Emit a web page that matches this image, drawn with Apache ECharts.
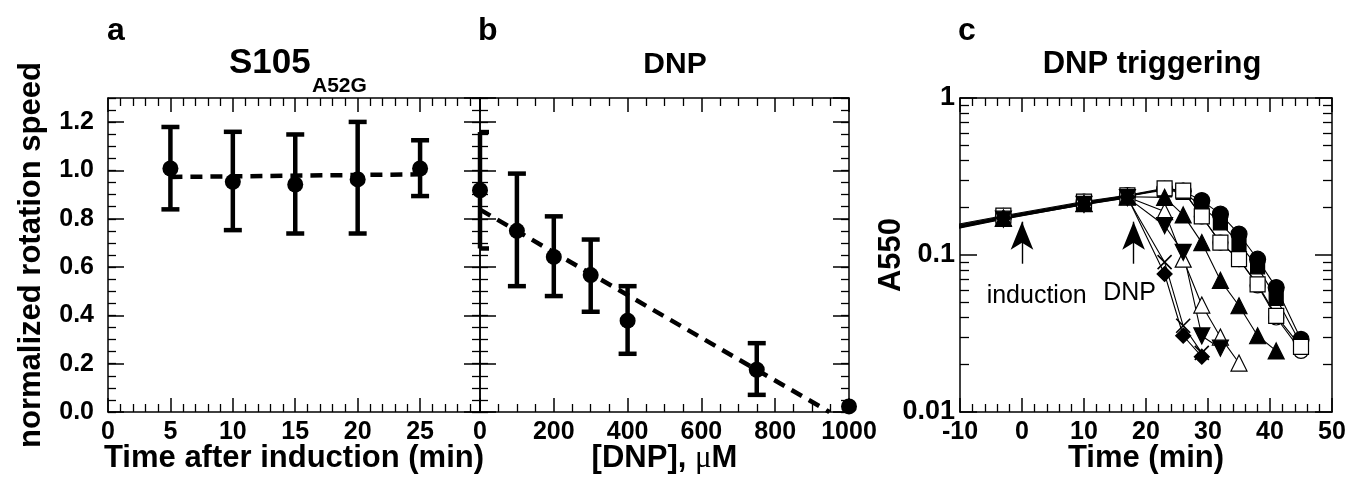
<!DOCTYPE html>
<html><head><meta charset="utf-8">
<script src="https://cdn.jsdelivr.net/npm/echarts@6/dist/echarts.min.js"></script>
<style>html,body{margin:0;padding:0;background:#fff}#chart{width:1348px;height:481px}</style>
</head><body><div id="chart"></div>
<script>
const FONT = '"Liberation Sans", Arial, Helvetica, sans-serif';

// ---- Panel a : S105 A52G ----
const aTime = [5, 10, 15, 20, 25];
const aSpeed = [1.008, 0.953, 0.942, 0.963, 1.008];
const aErrLow = [0.839, 0.753, 0.739, 0.739, 0.894];
const aErrHigh = [1.18, 1.16, 1.149, 1.201, 1.125];
const aFitX = [5, 25];
const aFitY = [0.973, 0.984];

// ---- Panel b : DNP ----
const bDNP = [0, 100, 200, 300, 400, 750, 1000];
const bSpeed = [0.918, 0.75, 0.642, 0.567, 0.378, 0.175, 0.023];
const bErrLow = [0.677, 0.521, 0.48, 0.415, 0.241, 0.071, null];
const bErrHigh = [1.159, 0.987, 0.81, 0.714, 0.521, 0.285, null];
const bFitX = [0, 947];
const bFitY = [0.838, 0];

// ---- Panel c : DNP triggering (A550, log) ----
const cTime = [-17, -3, 10, 17, 23, 26, 29, 32, 35, 38, 41, 45];
const cOpenCircle    = [0.135, 0.173, 0.214, 0.236, 0.264, 0.256, 0.176, 0.120, 0.094, 0.064, 0.040, 0.0245];
const cFilledCircle  = [0.139, 0.176, 0.217, 0.239, 0.262, 0.255, 0.222, 0.182, 0.136, 0.094, 0.062, 0.029];
const cFilledSquare  = [0.137, 0.175, 0.216, 0.237, 0.260, 0.250, 0.205, 0.160, 0.118, 0.084, 0.053, 0.027];
const cOpenSquare    = [0.140, 0.178, 0.219, 0.240, 0.266, 0.257, 0.176, 0.120, 0.094, 0.065, 0.041, 0.026];
const cOpenTriUp     = [0.133, 0.171, 0.212, 0.234, 0.189, 0.094, 0.048, 0.030, 0.0205, null, null, null];
const cFilledTriUp   = [0.136, 0.172, 0.213, 0.235, 0.233, 0.180, 0.120, 0.069, 0.0475, 0.0306, 0.0245, null];
const cFilledTriDown = [0.131, 0.169, 0.210, 0.232, 0.154, 0.104, 0.0305, 0.0255, null, null, null, null];
const cCross         = [0.132, 0.170, 0.209, 0.231, 0.090, 0.0354, 0.0238, null, null, null, null, null];
const cFilledDiamond = [0.134, 0.172, 0.211, 0.234, 0.0757, 0.0306, 0.0225, null, null, null, null, null];

// annotations in panel c
const cArrowX = [0, 18];
const cArrowTail = 0.088;
const cArrowTip = 0.163;
const cNoteText = ['induction', 'DNP'];
const cNoteX = [-5.7, 13.1];
const cNoteY = [0.0548, 0.0573];

// axis label texts
const aXName = 'Time after induction (min)';
const bXName = '[DNP], {mu|μ}M';
const cXName = 'Time (min)';
const aYName = 'normalized rotation speed';
const cYName = 'A550';

const K = '#000';
const nameStyle = {color: K, fontFamily: FONT, fontWeight: 'bold', fontSize: 31};

function xAx(grid, pos, min, max, interval, minor, label, name, extraName) {
  return {
    type: 'value', gridIndex: grid, position: pos, min: min, max: max, interval: interval,
    axisLine: {show: true, onZero: false, lineStyle: {color: K, width: 1.5}},
    axisTick: {show: true, inside: true, length: 14, lineStyle: {color: K, width: 1.5}},
    minorTick: {show: true, splitNumber: minor, length: 8, lineStyle: {color: K, width: 1.3}},
    splitLine: {show: false}, minorSplitLine: {show: false},
    axisLabel: label ? Object.assign({show: true, color: K, fontFamily: FONT, fontWeight: 'bold', fontSize: 25, margin: 8,
      formatter: v => String(v)}, label) : {show: false},
    name: name || '', nameLocation: 'middle', nameGap: 31, nameMoveOverlap: false,
    nameTextStyle: Object.assign({}, nameStyle, extraName || {})
  };
}
function yAx(grid, pos, o) {
  const a = {
    type: o.type || 'value', gridIndex: grid, position: pos, min: o.min, max: o.max,
    axisLine: {show: o.line !== false, onZero: false, lineStyle: {color: K, width: 1.5}},
    axisTick: {show: true, inside: true, length: o.tickLen, lineStyle: {color: K, width: o.tickW || 1.5}},
    minorTick: o.minor ? {show: true, splitNumber: o.minor, length: 9, lineStyle: {color: K, width: 1.3}} : {show: false},
    splitLine: {show: false}, minorSplitLine: {show: false},
    axisLabel: o.label ? Object.assign({show: true, color: K, fontFamily: FONT, fontWeight: 'bold'}, o.label) : {show: false},
    name: o.name || '', nameLocation: 'middle', nameGap: o.nameGap || 0, nameRotate: 90, nameMoveOverlap: false,
    nameTextStyle: nameStyle
  };
  if (o.interval !== undefined) a.interval = o.interval;
  if (o.logBase) a.logBase = o.logBase;
  return a;
}

const speedLabel = {fontSize: 25, margin: 14, showMaxLabel: false, padding: [0, 0, 4, 0], formatter: v => v.toFixed(1)};

const xAxis = [
  xAx(0, 'bottom', 0, 29.8, 5, 5, {showMaxLabel: false}, aXName),
  xAx(0, 'top', 0, 29.8, 5, 5, null),
  xAx(1, 'bottom', 0, 1000, 200, 4, {}, bXName, {rich: {mu: {fontFamily: '"Liberation Serif", "DejaVu Serif", serif', fontWeight: 'normal', fontSize: 31, color: K}}}),
  xAx(1, 'top', 0, 1000, 200, 4, null),
  xAx(2, 'bottom', -10, 50, 10, 5, {}, cXName),
  xAx(2, 'top', -10, 50, 10, 5, null)
];
const yAxis = [
  yAx(0, 'left', {min: 0, max: 1.3, interval: 0.2, tickLen: 16, label: speedLabel, name: aYName, nameGap: 61}),
  yAx(0, 'left', {min: 0, max: 1.3, interval: 0.05, tickLen: 8, line: false, tickW: 1.3}),
  yAx(0, 'right', {min: 0, max: 1.3, interval: 0.2, tickLen: 16}),
  yAx(0, 'right', {min: 0, max: 1.3, interval: 0.05, tickLen: 8, line: false, tickW: 1.3}),
  yAx(1, 'left', {min: 0, max: 1.3, interval: 0.2, tickLen: 16}),
  yAx(1, 'left', {min: 0, max: 1.3, interval: 0.05, tickLen: 8, line: false, tickW: 1.3}),
  yAx(1, 'right', {min: 0, max: 1.3, interval: 0.2, tickLen: 16}),
  yAx(1, 'right', {min: 0, max: 1.3, interval: 0.05, tickLen: 8, line: false, tickW: 1.3}),
  yAx(2, 'left', {type: 'log', logBase: 10, min: 0.01, max: 1, tickLen: 17, minor: 9,
    label: {fontSize: 27, margin: 5, padding: [0, 0, 10, 0], formatter: v => String(Number(Number(v).toPrecision(2)))},
    name: cYName, nameGap: 53}),
  yAx(2, 'right', {type: 'log', logBase: 10, min: 0.01, max: 1, tickLen: 17, minor: 9})
];

function errorBars(xs, lo, hi, xi, yi) {
  const data = [];
  xs.forEach((x, i) => { if (lo[i] != null && hi[i] != null) data.push([x, lo[i], hi[i]]); });
  return {
    type: 'custom', xAxisIndex: xi, yAxisIndex: yi, data: data, encode: {x: 0, y: [1, 2]}, silent: true, clip: false,
    renderItem: function (params, api) {
      const pLo = api.coord([api.value(0), api.value(1)]);
      const pHi = api.coord([api.value(0), api.value(2)]);
      const cs = params.coordSys;
      const half = 9;
      const xl = Math.max(pLo[0] - half, cs.x);
      const xr = pLo[0] + half;
      const st = {stroke: K, lineWidth: 4.5, fill: null};
      return {type: 'group', children: [
        {type: 'line', shape: {x1: pLo[0], y1: pLo[1], x2: pHi[0], y2: pHi[1]}, style: st},
        {type: 'line', shape: {x1: xl, y1: pLo[1], x2: xr, y2: pLo[1]}, style: st},
        {type: 'line', shape: {x1: xl, y1: pHi[1], x2: xr, y2: pHi[1]}, style: st}
      ]};
    }
  };
}
function points(xs, ys, xi, yi) {
  return {type: 'scatter', xAxisIndex: xi, yAxisIndex: yi, data: xs.map((x, i) => [x, ys[i]]),
    symbol: 'circle', symbolSize: 16, itemStyle: {color: K, opacity: 1}, clip: false, silent: true, z: 4,
    emphasis: {disabled: true}};
}
function fit(xs, ys, xi, yi) {
  return {type: 'line', xAxisIndex: xi, yAxisIndex: yi, data: xs.map((x, i) => [x, ys[i]]),
    symbol: 'none', lineStyle: {color: K, width: 4.5, type: [12, 8], opacity: 1}, silent: true, z: 3};
}

const cDefs = [
  {data: cOpenCircle, symbol: 'circle', size: 15, fill: '#fff'},
  {data: cFilledCircle, symbol: 'circle', size: 16, fill: K},
  {data: cFilledSquare, symbol: 'rect', size: 14, fill: K},
  {data: cOpenSquare, symbol: 'rect', size: 15, fill: '#fff'},
  {data: cOpenTriUp, symbol: 'triangle', size: 16, fill: '#fff'},
  {data: cFilledTriUp, symbol: 'triangle', size: 16, fill: K},
  {data: cFilledTriDown, symbol: 'triangle', size: 16, fill: K, rotate: 180},
  {data: cCross, symbol: 'path://M0,0L10,10M10,0L0,10', size: 14, fill: 'rgba(0,0,0,0)', bw: 1.6},
  {data: cFilledDiamond, symbol: 'diamond', size: 15, fill: K}
];
const cSeries = cDefs.map(d => ({
  type: 'line', xAxisIndex: 4, yAxisIndex: 8,
  data: cTime.map((t, i) => [t, d.data[i]]),
  symbol: d.symbol, symbolSize: d.size, symbolRotate: d.rotate || 0,
  showSymbol: true, showAllSymbol: true, connectNulls: false, clip: true, silent: true,
  lineStyle: {color: K, width: 1.1, opacity: 1},
  itemStyle: {color: d.fill, borderColor: K, borderWidth: d.bw || 1.2, opacity: 1},
  emphasis: {disabled: true}
}));

const annotations = {
  type: 'line', xAxisIndex: 4, yAxisIndex: 8, data: [], silent: true,
  markLine: {
    silent: true, animation: false, symbol: ['none', 'arrow'], symbolSize: [17, 28],
    label: {show: false}, lineStyle: {color: K, width: 1.4, type: 'solid', opacity: 1}, emphasis: {disabled: true},
    data: cArrowX.map(x => [{coord: [x, cArrowTail]}, {coord: [x, cArrowTip]}])
  },
  markPoint: {
    silent: true, animation: false, symbol: 'circle', symbolSize: 0, itemStyle: {color: 'rgba(0,0,0,0)'},
    label: {show: true, position: 'right', distance: 0, color: K, fontFamily: FONT, fontSize: 25, formatter: p => p.name},
    data: cNoteText.map((n, i) => ({name: n, coord: [cNoteX[i], cNoteY[i]]}))
  }
};

function txt(s, x, baseline, size, align, weight) {
  return {type: 'text', x: x, y: baseline - 0.3465 * size, silent: true,
    style: {text: s, fill: K, font: (weight || 'bold') + ' ' + size + 'px ' + FONT,
      align: align, verticalAlign: 'middle', textAlign: align, textVerticalAlign: 'middle'}};
}

const option = {
  animation: false,
  backgroundColor: '#fff',
  grid: [
    {left: 108, top: 98, width: 372, height: 314, containLabel: false, outerBoundsMode: 'none'},
    {left: 480, top: 98, width: 369, height: 314, containLabel: false, outerBoundsMode: 'none'},
    {left: 960, top: 98, width: 372, height: 314, containLabel: false, outerBoundsMode: 'none'}
  ],
  xAxis: xAxis,
  yAxis: yAxis,
  graphic: [
    txt('a', 107, 42, 32, 'left'),
    txt('b', 478, 42, 32, 'left'),
    txt('c', 958, 42, 32, 'left'),
    txt('S105', 229, 75, 35, 'left'),
    txt('A52G', 312, 93, 21, 'left'),
    txt('DNP', 675, 75, 30, 'center'),
    txt('DNP triggering', 1152, 75, 31, 'center')
  ],
  series: [
    errorBars(aTime, aErrLow, aErrHigh, 0, 0),
    fit(aFitX, aFitY, 0, 0),
    points(aTime, aSpeed, 0, 0),
    errorBars(bDNP, bErrLow, bErrHigh, 2, 4),
    fit(bFitX, bFitY, 2, 4),
    points(bDNP, bSpeed, 2, 4)
  ].concat(cSeries, [annotations])
};

const chart = echarts.init(document.getElementById('chart'), null, {renderer: 'canvas'});
chart.setOption(option);
</script>
</body></html>
